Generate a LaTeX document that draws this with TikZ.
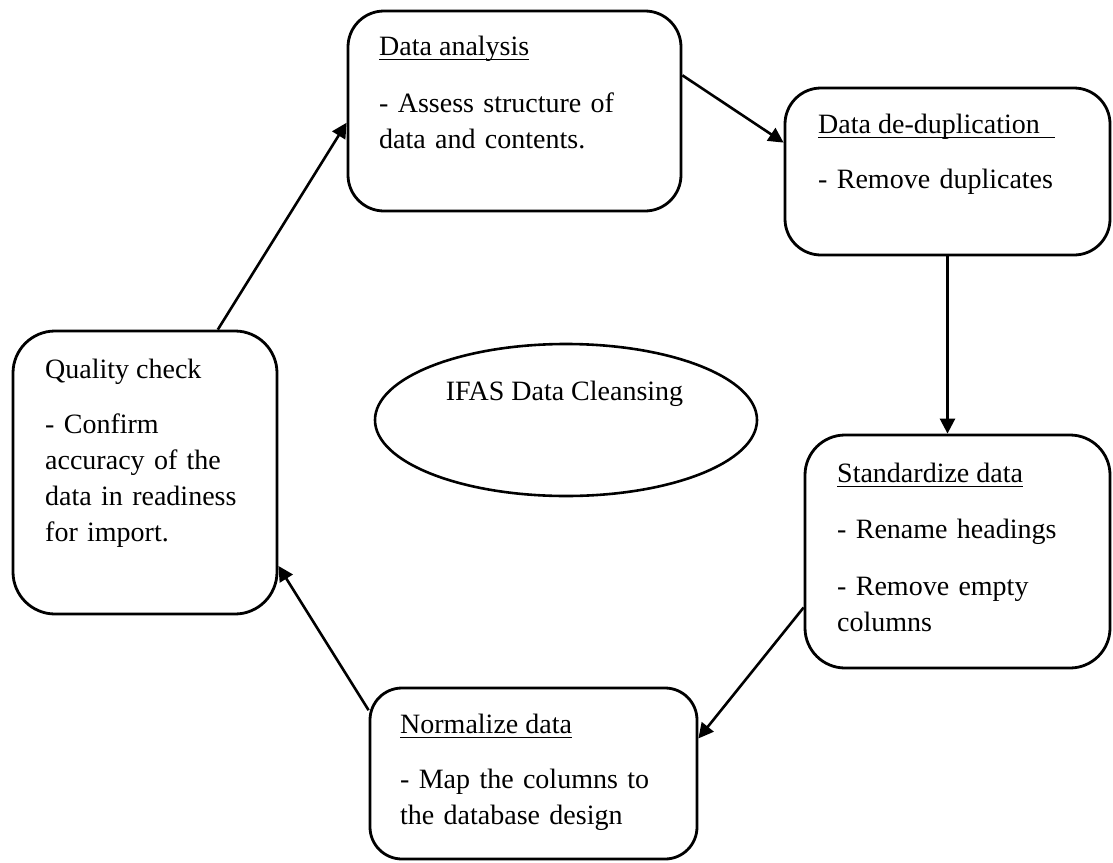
\documentclass[tikz,border=0pt]{standalone}
\usepackage{fontspec}
\setmainfont{Liberation Serif}
\usetikzlibrary{arrows.meta,shapes.geometric}
\begin{document}
\begin{tikzpicture}[x=1pt,y=-1pt,
  stepbox/.style={draw, line width=2.8pt, rounded corners=36pt, inner sep=0pt},
  hub/.style={draw, ellipse, line width=2.6pt, inner sep=0pt},
  txt/.style={anchor=base west, inner sep=0pt, font=\fontsize{28}{36}\selectfont},
  body/.style={txt, text width=300pt, align=left},
  flow/.style={line width=2.6pt, -{Triangle[length=15pt,width=15pt]}},
  uline/.style={line width=1.5pt}]
\useasboundingbox (0,0) rectangle (1113,862);

% process steps
\node[stepbox, minimum width=333pt, minimum height=200pt] (A) at (514.5,111) {};
\node[stepbox, minimum width=325pt, minimum height=167pt] (B) at (947.5,171.5) {};
\node[stepbox, minimum width=305pt, minimum height=233pt, rounded corners=40pt] (C) at (957.5,551.5) {};
\node[stepbox, minimum width=327pt, minimum height=171pt, rounded corners=32pt] (D) at (533.5,773.5) {};
\node[stepbox, minimum width=264pt, minimum height=283pt, rounded corners=42pt] (E) at (145,472.5) {};

% centre
\node[hub, minimum width=382pt, minimum height=152pt] (hub) at (566,420) {};
\node[txt, anchor=base] (hubtxt) at (564.5,400) {IFAS Data Cleansing};

% texts
\node[txt] (ha) at (379,55) {Data analysis};
\node[body] (ba) at (379,112) {- Assess structure of\\data and contents.};

\node[txt] (hb) at (818,133) {Data de-duplication};
\node[body] (bb) at (818,188) {- Remove duplicates};

\node[txt] (hc) at (837,482) {Standardize data};
\node[body] (bc) at (837,538) {- Rename headings\\[21pt]- Remove empty\\columns};

\node[txt] (hd) at (400,733) {Normalize data};
\node[body] (bd) at (400,788) {- Map the columns to\\the database design};

\node[txt] (he) at (45,378) {Quality check};
\node[body] (be) at (45,433) {- Confirm\\accuracy of the\\data in readiness\\for import.};

% underlined headings
\draw[uline] ([yshift=-4.5pt]ha.base west) -- ([yshift=-4.5pt]ha.base east);
\draw[uline] ([yshift=-4.5pt]hb.base west) -- ([yshift=-4.5pt,xshift=15pt]hb.base east);
\draw[uline] ([yshift=-4.5pt]hc.base west) -- ([yshift=-4.5pt]hc.base east);
\draw[uline] ([yshift=-4.5pt]hd.base west) -- ([yshift=-4.5pt]hd.base east);

% cycle
\draw[flow] (E.63.4) -- (A.184.1);
\draw[flow] (A.12.3) -- (B.170.7);
\draw[flow] (B.south) -- (B.south |- C.north);
\draw[flow] (C.200.7) -- (D.12.6);
\draw[flow] (D.159.7) -- (E.-35);
\end{tikzpicture}
\end{document}
